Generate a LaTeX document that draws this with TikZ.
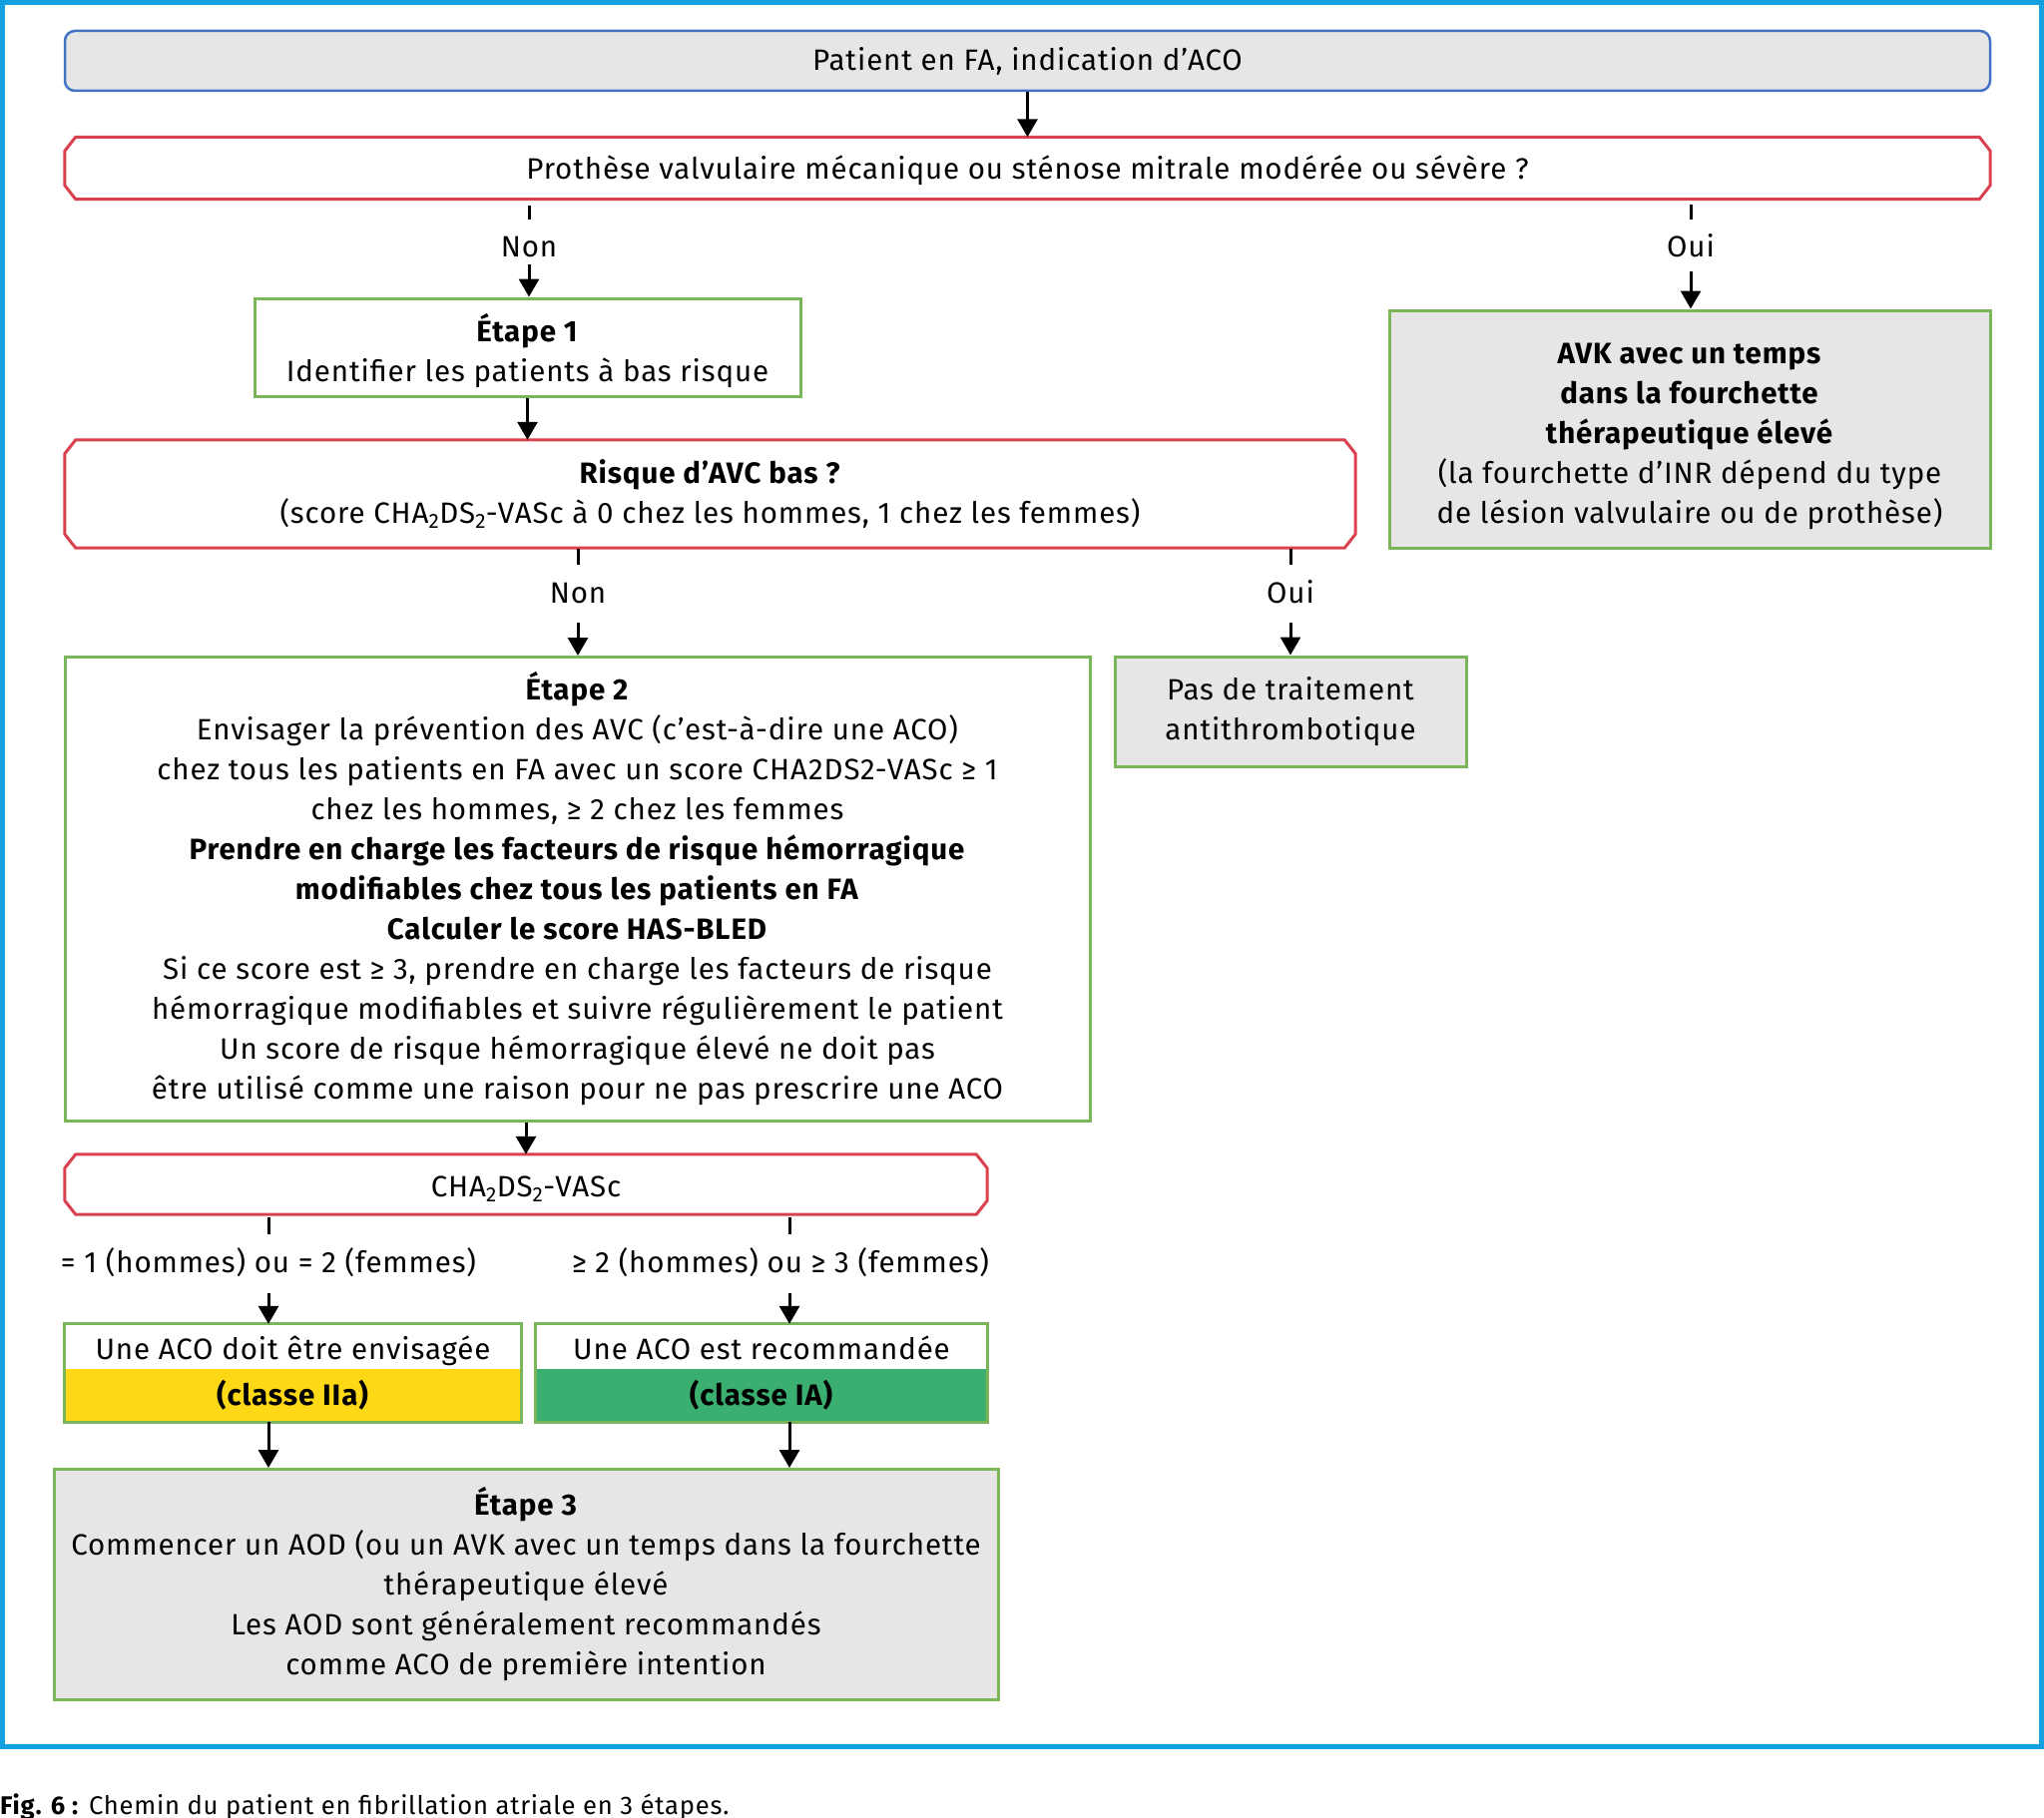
\documentclass[tikz,border=0pt]{standalone}
\usepackage{fontspec}
\setmainfont[LetterSpace=3]{Fira Sans}
\usetikzlibrary{arrows.meta}
\definecolor{frameblue}{HTML}{12A0DE}
\definecolor{topblue}{HTML}{4472C4}
\definecolor{boxgray}{HTML}{E6E6E6}
\definecolor{qred}{HTML}{D9414F}
\definecolor{bgreen}{HTML}{7AB55A}
\definecolor{cyellow}{HTML}{FDD816}
\definecolor{cgreen}{HTML}{3AAF70}
\newcommand{\chamfbox}[1]{%
  \draw[qline] ([xshift=11pt]#1.north west) -- ([xshift=-11pt]#1.north east)
    -- ([yshift=-14pt]#1.north east) -- ([yshift=14pt]#1.south east)
    -- ([xshift=-11pt]#1.south east) -- ([xshift=11pt]#1.south west)
    -- ([yshift=14pt]#1.south west) -- ([yshift=-14pt]#1.north west) -- cycle;}
\begin{document}
\begin{tikzpicture}[x=1pt,y=-1pt,
  font=\fontsize{29.5}{40}\selectfont,
  base/.style={inner sep=0pt, align=center},
  startbox/.style={base, draw=topblue, fill=boxgray, line width=2.5pt, rounded corners=10pt},
  qbox/.style={base},
  qline/.style={draw=qred, line width=3pt},
  gbox/.style={base, draw=bgreen, line width=3pt, fill=white},
  ggray/.style={gbox, fill=boxgray},
  lbl/.style={inner sep=0pt, text height=20pt, text depth=0pt, anchor=base},
  arr/.style={line width=3pt, -{Triangle[length=18pt,width=20pt]}},
  tick/.style={line width=3pt}]
\useasboundingbox (0,0) rectangle (2048,1822);
\draw[frameblue, line width=5pt] (2.5,2.5) rectangle (2045.5,1750.5);

% nodes
\node[startbox, minimum width=1929pt, minimum height=60pt] (start) at (1029.5,61) {Patient en FA, indication d’ACO};
\node[qbox, minimum width=1929pt, minimum height=62pt, text height=25pt, text depth=2pt] (q1) at (1029.5,168.5) {Prothèse valvulaire mécanique ou sténose mitrale modérée ou sévère ?};
\chamfbox{q1}
\node[gbox, minimum width=547pt, minimum height=98pt] (e1) at (528.5,348) {\rule{0pt}{35pt}\textbf{Étape 1}\\Identifier les patients à bas risque};
\node[ggray, minimum width=602pt, minimum height=238pt] (avk) at (1693,430) {\rule{0pt}{36pt}\textbf{AVK avec un temps}\\\textbf{dans la fourchette}\\\textbf{thérapeutique élevé}\\(la fourchette d’INR dépend du type\\de lésion valvulaire ou de prothèse)};
\node[qbox, minimum width=1293pt, minimum height=108pt] (q2) at (711.5,495) {\textbf{Risque d’AVC bas ?}\\(score CHA\textsubscript{2}DS\textsubscript{2}-VASc à 0 chez les hommes, 1 chez les femmes)};
\chamfbox{q2}
\node[gbox, minimum width=1027pt, minimum height=465pt] (e2) at (578.5,891) {\textbf{Étape 2}\\Envisager la prévention des AVC (c’est-à-dire une ACO)\\chez tous les patients en FA avec un score CHA2DS2-VASc ≥ 1\\chez les hommes, ≥ 2 chez les femmes\\\textbf{Prendre en charge les facteurs de risque hémorragique}\\\textbf{modifiables chez tous les patients en FA}\\\textbf{Calculer le score HAS-BLED}\\Si ce score est ≥ 3, prendre en charge les facteurs de risque\\hémorragique modifiables et suivre régulièrement le patient\\Un score de risque hémorragique élevé ne doit pas\\être utilisé comme une raison pour ne pas prescrire une ACO};
\node[ggray, minimum width=352pt, minimum height=110pt] (pas) at (1293,713) {Pas de traitement\\antithrombotique};
\node[qbox, minimum width=924pt, minimum height=60pt, text height=26pt, text depth=2pt] (q3) at (527,1187) {CHA\textsubscript{2}DS\textsubscript{2}-VASc};
\chamfbox{q3}
\node[base, minimum width=457pt, minimum height=45pt, fill=white, text height=27pt, text depth=2pt] (a1t) at (293.5,1349.5) {Une ACO doit être envisagée};
\node[base, minimum width=457pt, minimum height=53pt, fill=cyellow] (a1b) at (293.5,1398.5) {\textbf{(classe IIa)}};
\draw[bgreen, line width=3pt] (a1t.north west) rectangle (a1b.south east);
\node[base, minimum width=452pt, minimum height=45pt, fill=white, text height=27pt, text depth=2pt] (a2t) at (763,1349.5) {Une ACO est recommandée};
\node[base, minimum width=452pt, minimum height=53pt, fill=cgreen] (a2b) at (763,1398.5) {\textbf{(classe IA)}};
\draw[bgreen, line width=3pt] (a2t.north west) rectangle (a2b.south east);
\node[ggray, minimum width=946pt, minimum height=231pt] (e3) at (527,1588) {\textbf{Étape 3}\\Commencer un AOD (ou un AVK avec un temps dans la fourchette\\thérapeutique élevé\\Les AOD sont généralement recommandés\\comme ACO de première intention};

% labels
\node[lbl] (n1) at (530,258) {Non};
\node[lbl] (o1) at (1694,258) {Oui};
\node[lbl] (n2) at (579,604) {Non};
\node[lbl] (o2) at (1293,604) {Oui};
\node[lbl] (l3) at (269,1275) {= 1 (hommes) ou = 2 (femmes)};
\node[lbl] (r3) at (782,1275) {≥ 2 (hommes) ou ≥ 3 (femmes)};
\coordinate (bl) at (269,1275);
\coordinate (br) at (791,1275);

% connectors
\draw[arr] (start.south) -- (q1.north);
\draw[tick, shorten <=6pt, shorten >=18pt] (q1.south -| n1) -- (n1.north);
\draw[arr, shorten <=7pt] (n1.south) -- (n1.south |- e1.north);
\draw[tick, shorten <=5pt, shorten >=18pt] (q1.south -| o1) -- (o1.north);
\draw[arr, shorten <=14pt] (o1.south) -- (o1.south |- avk.north);
\draw[arr] (e1.south) -- (e1.south |- q2.north);
\draw[tick, shorten <=1pt, shorten >=18pt] (q2.south -| n2) -- (n2.north);
\draw[arr, shorten <=20pt] (n2.south) -- (n2.south |- e2.north);
\draw[tick, shorten <=1pt, shorten >=18pt] (q2.south -| o2) -- (o2.north);
\draw[arr, shorten <=20pt] (o2.south) -- (o2.south |- pas.north);
\draw[arr] (q3.north |- e2.south) -- (q3.north);
\draw[tick, shorten <=3pt, shorten >=18pt] (q3.south -| bl) -- (bl |- l3.north);
\draw[arr, shorten <=21pt] (bl |- l3.south) -- (bl |- a1t.north);
\draw[tick, shorten <=3pt, shorten >=18pt] (q3.south -| br) -- (br |- r3.north);
\draw[arr, shorten <=21pt] (br |- r3.south) -- (br |- a2t.north);
\draw[arr] (bl |- a1b.south) -- (bl |- e3.north);
\draw[arr] (br |- a2b.south) -- (br |- e3.north);

% caption
\node[inner sep=0pt, anchor=base west, font=\fontsize{25.6}{28}\selectfont] (cap) at (0,1818) {\textbf{Fig. 6 :} Chemin du patient en fibrillation atriale en 3 étapes.};
\end{tikzpicture}
\end{document}
